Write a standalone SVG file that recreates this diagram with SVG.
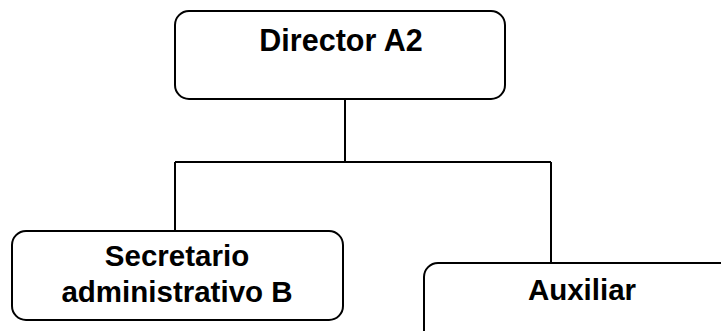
<svg xmlns="http://www.w3.org/2000/svg" width="721" height="331" viewBox="0 0 721 331">
<style>
.box{fill:#fff;stroke:#000;stroke-width:2}
.t{font-family:"Liberation Sans",Arial,sans-serif;font-weight:bold;fill:#000;text-anchor:middle}
.c{fill:none;stroke:#000;stroke-width:2}
</style>
<rect width="721" height="331" fill="#fff"/>
<g id="connectors">
<path class="c" d="M345,99 V162 M175,162 H551 M175,162 V231 M551,162 V263"/>
</g>
<g id="director">
<rect class="box" x="175" y="11" width="330" height="88" rx="14"/>
<text class="t" x="341" y="51" font-size="30.5">Director A2</text>
</g>
<g id="secretario">
<rect class="box" x="12" y="231" width="331" height="89" rx="14"/>
<text class="t" x="177" y="266" font-size="29.5">Secretario</text>
<text class="t" x="177" y="302" font-size="29.5">administrativo B</text>
</g>
<g id="auxiliar">
<rect class="box" x="424" y="263" width="320" height="90" rx="14"/>
<text class="t" x="582" y="300" font-size="29.5">Auxiliar</text>
</g>
</svg>
